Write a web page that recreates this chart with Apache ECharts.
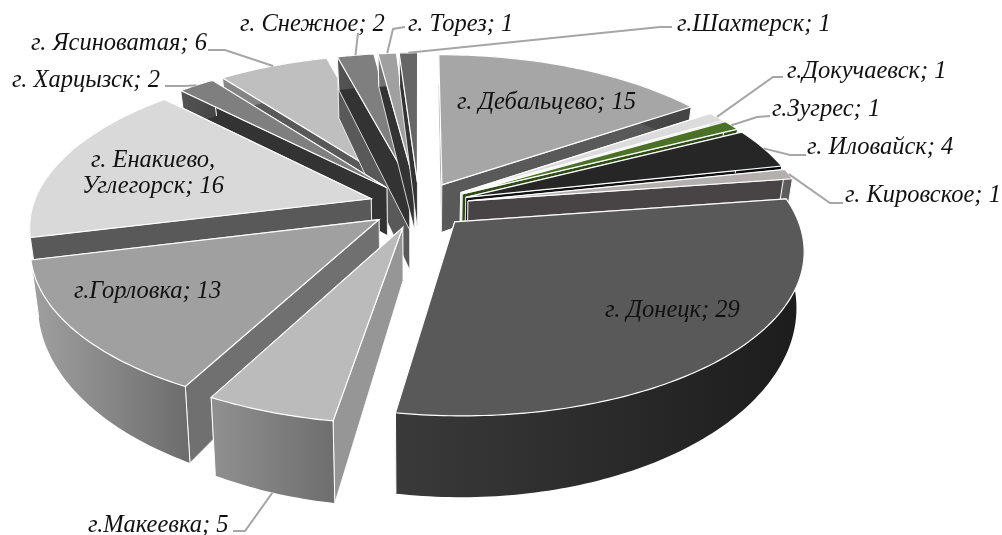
<!DOCTYPE html>
<html><head><meta charset="utf-8">
<style>html,body{margin:0;padding:0;background:#fff}#c{width:1002px;height:535px}</style>
<script src="https://cdn.jsdelivr.net/npm/echarts@6/dist/echarts.min.js"></script>
</head><body><div id="c"></div>
<script>
const names = ['г. Дебальцево','г.Докучаевск','г.Зугрес','г. Иловайск','г. Кировское','г. Донецк','г.Макеевка','г.Горловка','г. Енакиево,\nУглегорск','г. Харцызск','г. Ясиноватая','г. Снежное','г. Торез','г.Шахтерск'];
const values = [15,1,1,4,1,29,5,13,16,2,6,2,1,1];

// styles: top face, radial wall, outer wall gradient (left, right)
const topColors = ['#a6a6a6','#dcdcdc','#4b7028','#262626','#b3afaf','#595959','#bbbbbb','#a0a0a0','#d9d9d9','#7f7f7f','#bfbfbf','#7f7f7f','#a0a0a0','#666666'];
const sideColors = ['#595959','#e0e0e0','#2f4a18','#111111','#484445','#444444','#969696','#707070','#595959','#333333','#595959','#333333','#333333','#333333'];
const wallLeft = ['#555','#999','#375a1c','#111','#666','#3a3a3a','#909090','#a0a0a0','#595959','#555','#888','#555','#777','#444'];
const wallRight = ['#444','#888','#2c4a16','#000','#555','#1c1c1c','#6e6e6e','#6c6c6c','#595959','#444','#777','#444','#666','#333'];
const drawOrder = [10,11,12,13,0,1,2,3,9,4,8,7,5,6];
const SECOND_WALL = 11, SECOND_WALL_COLOR = '#595959', SECOND_WALL_SCALE = 1.85;

// layout: [anchor x, centre y, align]
const labelPos = [[457,103,'left'],[787,72,'left'],[772,110,'left'],[807,148,'left'],[845,196,'left'],[605,311,'left'],[88,526,'left'],[74,292,'left'],[153,174,'center'],[12,81,'left'],[31,44,'left'],[240,25,'left'],[408,25,'left'],[677,25,'left']];
// leader elbow points from the label towards the slice rim
const leaders = [null,[[783,77],[773,77]],[[770,116],[757,117]],[[806,155],[790,155]],[[843,203],[830,203]],null,[[233,531],[245,531]],null,null,[[165,86],[185,86]],[[208,50],[225,50]],[[358,33]],[[405,27],[393,29]],[[672,27],[660,27]]];

const CX=419, CY=205, RX=338, RY=157, P=0.16, EXPLODE=0.148, H=50, BS=0.98;
const total = values.reduce((a,b)=>a+b,0);
const starts=[]; let acc=0;
values.forEach(v=>{starts.push(acc);acc+=v;});
const ang=i=>[starts[i]/total*2*Math.PI,(starts[i]+values[i])/total*2*Math.PI];
function proj(x,y){const s=1/(1-P*y);return {x:CX+RX*x*s,y:CY+RY*y*s,s};}
function ptTop(i,th,r){const [a,b]=ang(i);const m=(a+b)/2;
  return proj(EXPLODE*Math.sin(m)+r*Math.sin(th),-(EXPLODE*Math.cos(m)+r*Math.cos(th)));}
function low(p,k){return [CX+(p.x-CX)*BS,p.y+(k||1)*H*Math.pow(p.s,2.5)];}
const xy=p=>[p.x,p.y];
const midY=i=>{const [a,b]=ang(i);return -Math.cos((a+b)/2);};

function poly(points,fill,stroke,lw){return {type:'polygon',shape:{points},style:{fill,stroke:stroke||'none',lineWidth:lw||0}};}
function renderSlice(params,api){
  const i=api.value(0);
  const [a,b]=ang(i); const N=Math.max(4,Math.ceil((b-a)*60));
  const apex=ptTop(i,a,0);
  const rim=[];for(let k=0;k<=N;k++)rim.push(ptTop(i,a+(b-a)*k/N,1));
  const first=rim[0],last=rim[N];
  const kids=[];
  if(i===SECOND_WALL){kids.push(poly([xy(apex),xy(first),low(first,SECOND_WALL_SCALE),low(apex,SECOND_WALL_SCALE)],SECOND_WALL_COLOR,'#fff',0.8));}
  const wallA=[xy(apex),xy(first),low(first),low(apex)];
  const wallB=[xy(apex),xy(last),low(last),low(apex)];
  const walls=first.y<last.y?[wallA,wallB]:[wallB,wallA];
  walls.forEach(w=>kids.push(poly(w,sideColors[i],'#fff',0.8)));
  const outer=rim.map(xy).concat(rim.slice().reverse().map(p=>low(p)));
  const grad=new echarts.graphic.LinearGradient(0,0,1,0,[{offset:0,color:wallLeft[i]},{offset:1,color:wallRight[i]}]);
  kids.push(poly(outer,grad,'none',0));
  kids.push({type:'polyline',shape:{points:[low(rim[0]),xy(rim[0])]},style:{stroke:'#fff',lineWidth:1,fill:'none'}});
  kids.push({type:'polyline',shape:{points:[low(rim[N]),xy(rim[N])]},style:{stroke:'#fff',lineWidth:1,fill:'none'}});
  kids.push(poly([xy(apex)].concat(rim.map(xy)),topColors[i],'#fff',1.2));
  return {type:'group',children:kids};
}
function renderLabel(params,api){
  const i=api.value(0),v=api.value(1);
  const [x,y,al]=labelPos[i];
  const kids=[];
  if(leaders[i]){const [a,b]=ang(i);const e=ptTop(i,(a+b)/2,1);
    const end=midY(i)>0.5?low(e):xy(e);
    kids.push({type:'polyline',shape:{points:leaders[i].concat([end])},style:{stroke:'#a6a6a6',lineWidth:2,fill:'none'}});}
  kids.push({type:'text',style:{x,y,text:names[i]+'; '+v,textAlign:al,textVerticalAlign:'middle',fill:'#111',font:'italic 24.5px "Liberation Serif"',lineHeight:26}});
  return {type:'group',children:kids};
}
const chart=echarts.init(document.getElementById('c'),null,{renderer:'canvas'});
chart.setOption({
  animation:false,backgroundColor:'#fff',
  series:[
    {type:'custom',coordinateSystem:'none',renderItem:renderSlice,data:drawOrder.map(i=>[i,values[i]]),z:1,silent:true},
    {type:'custom',coordinateSystem:'none',renderItem:renderLabel,data:values.map((v,i)=>[i,v]),z:2,silent:true}
  ]
});
</script></body></html>
